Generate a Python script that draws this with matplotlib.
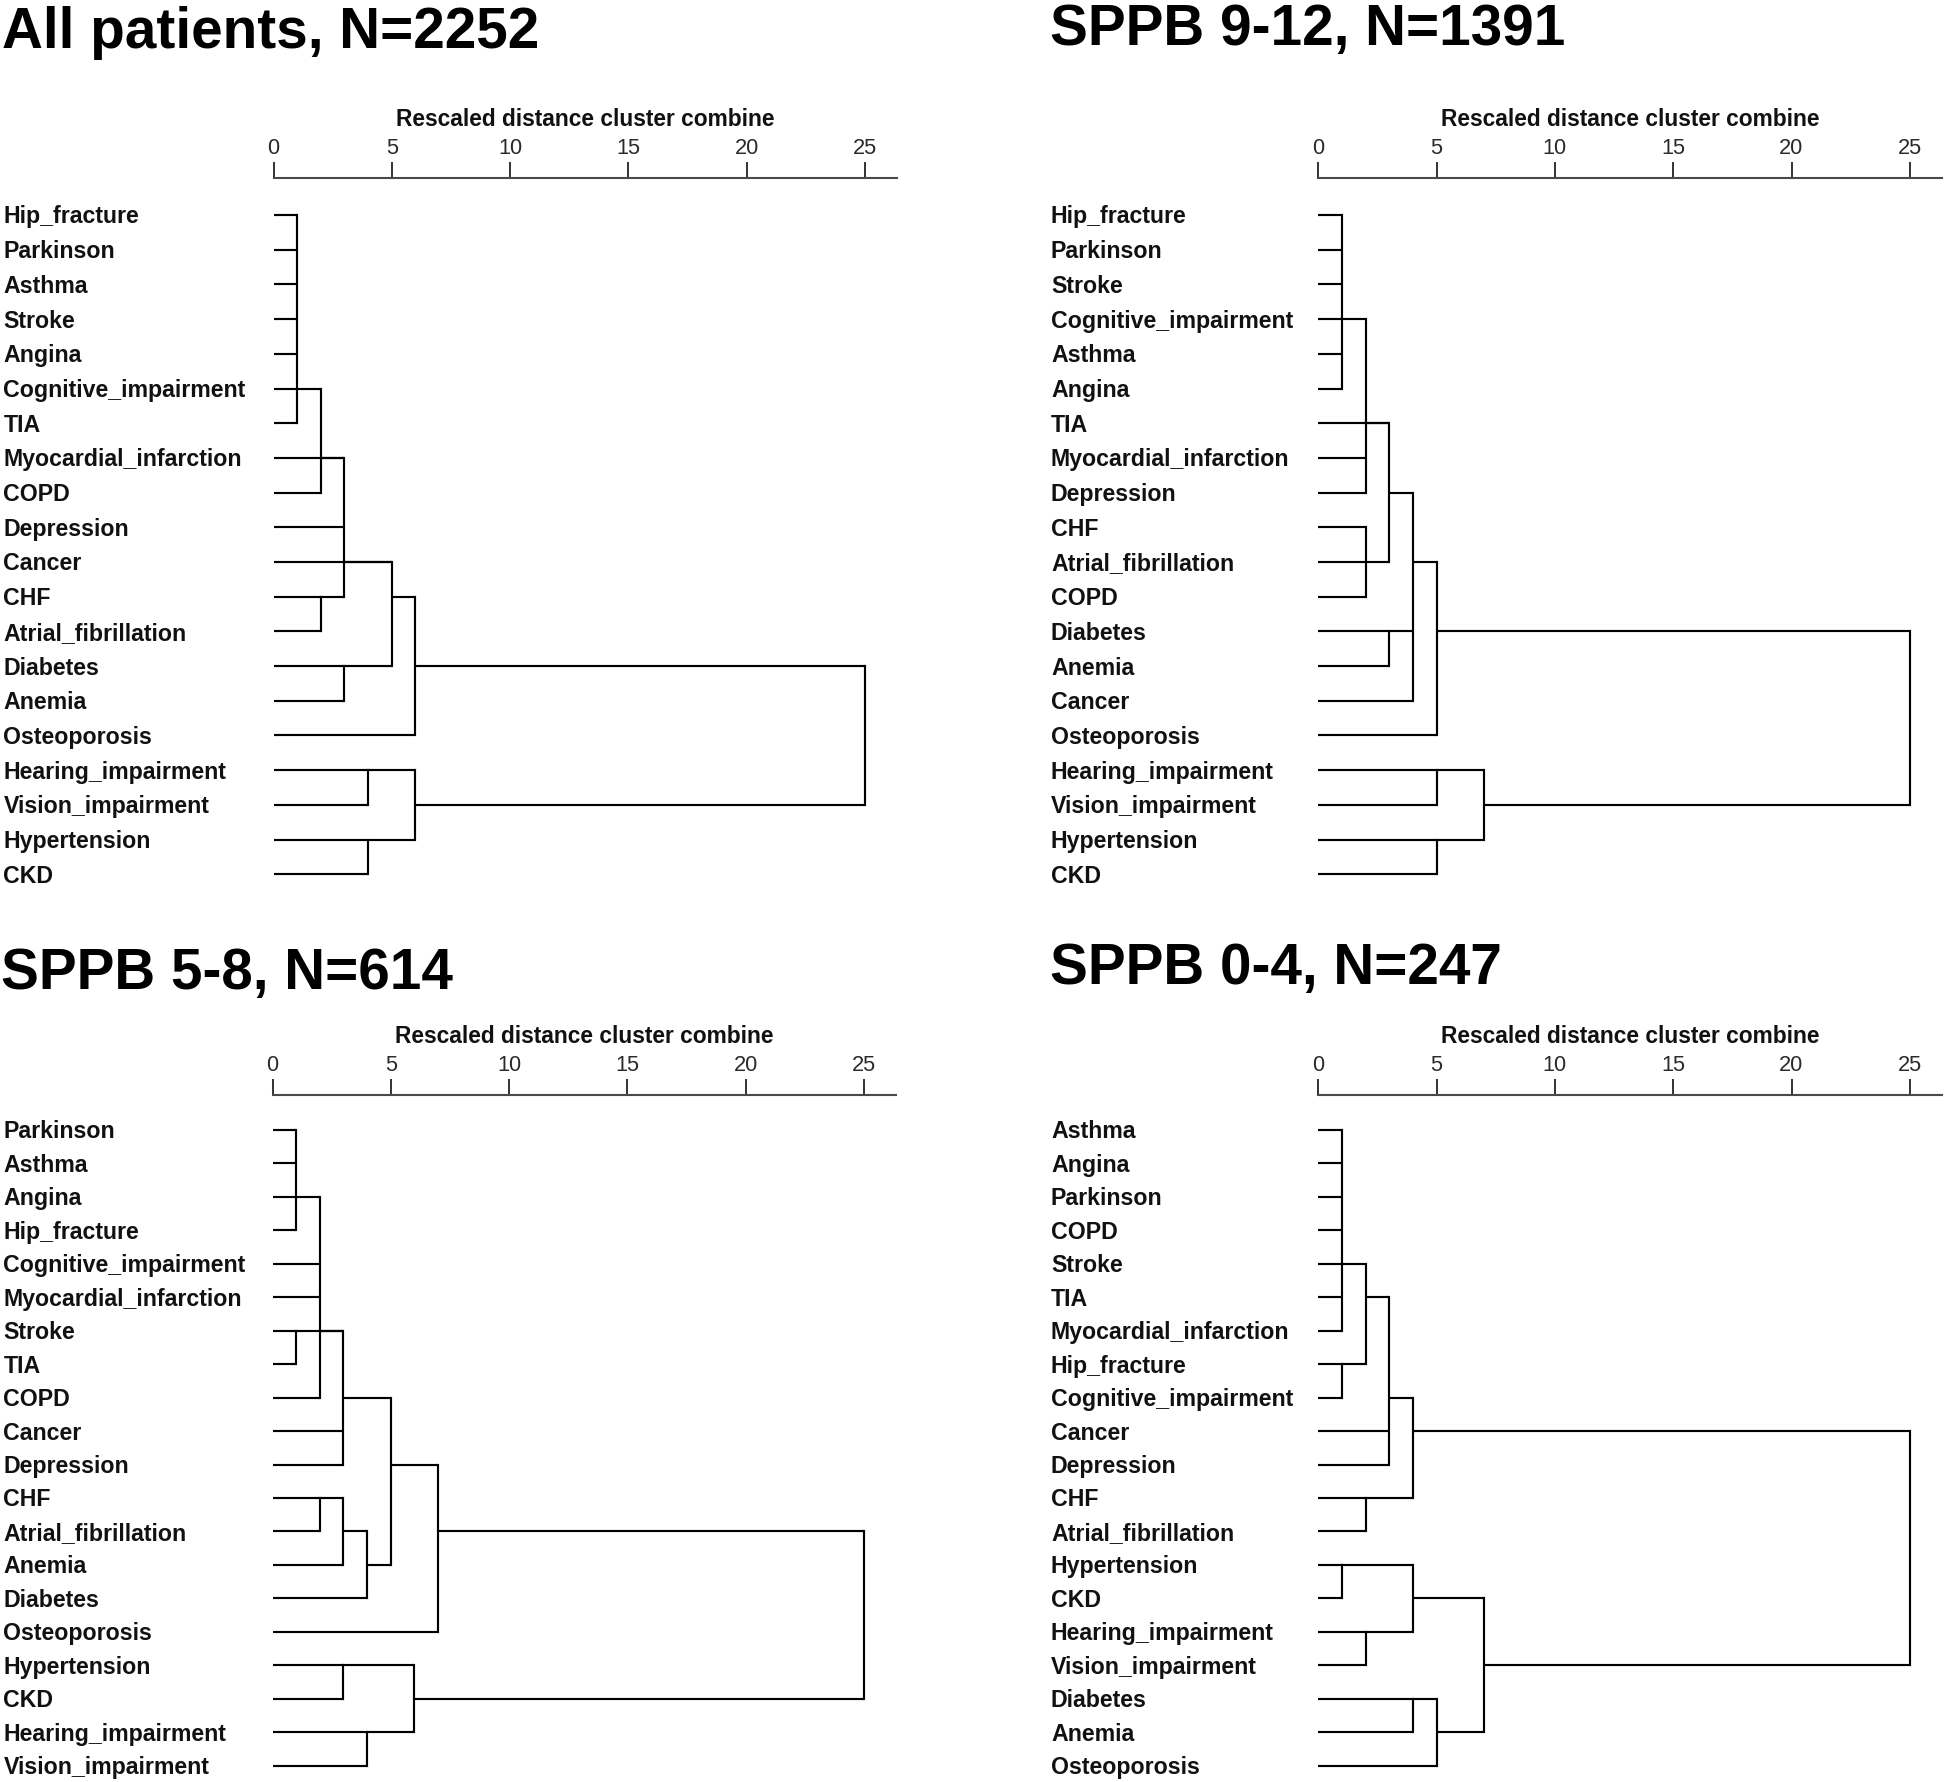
import matplotlib
matplotlib.use("Agg")
import matplotlib.pyplot as plt
import matplotlib.transforms as mtransforms

# ---------------- data ----------------
titles = ["All patients, N=2252", "SPPB 9-12, N=1391", "SPPB 5-8, N=614", "SPPB 0-4, N=247"]
axis_label = "Rescaled distance cluster combine"
tick_values = [0, 5, 10, 15, 20, 25]

leaves_all = ["Hip_fracture", "Parkinson", "Asthma", "Stroke", "Angina", "Cognitive_impairment",
              "TIA", "Myocardial_infarction", "COPD", "Depression", "Cancer", "CHF",
              "Atrial_fibrillation", "Diabetes", "Anemia", "Osteoporosis", "Hearing_impairment",
              "Vision_impairment", "Hypertension", "CKD"]
# merges: (rescaled distance, members [leaf name or earlier merge index], leaf row the joined line leaves from)
merges_all = [
    (1, ["Hip_fracture", "Parkinson", "Asthma", "Stroke", "Angina", "Cognitive_impairment", "TIA"], "Cognitive_impairment"),
    (2, [0, "COPD"], "Myocardial_infarction"),
    (2, ["CHF", "Atrial_fibrillation"], "CHF"),
    (3, [1, "Myocardial_infarction", "Depression", 2], "Cancer"),
    (3, ["Diabetes", "Anemia"], "Diabetes"),
    (5, [3, "Cancer", 4], "CHF"),
    (6, [5, "Osteoporosis"], "Diabetes"),
    (4, ["Hearing_impairment", "Vision_impairment"], "Hearing_impairment"),
    (4, ["Hypertension", "CKD"], "Hypertension"),
    (6, [7, 8], "Vision_impairment"),
    (25, [6, 9], None),
]

leaves_912 = ["Hip_fracture", "Parkinson", "Stroke", "Cognitive_impairment", "Asthma", "Angina",
              "TIA", "Myocardial_infarction", "Depression", "CHF", "Atrial_fibrillation", "COPD",
              "Diabetes", "Anemia", "Cancer", "Osteoporosis", "Hearing_impairment",
              "Vision_impairment", "Hypertension", "CKD"]
merges_912 = [
    (1, ["Hip_fracture", "Parkinson", "Stroke", "Cognitive_impairment", "Asthma", "Angina"], "Cognitive_impairment"),
    (2, [0, "Myocardial_infarction", "Depression"], "TIA"),
    (2, ["CHF", "Atrial_fibrillation", "COPD"], "Atrial_fibrillation"),
    (3, [1, "TIA", 2], "Depression"),
    (3, ["Diabetes", "Anemia"], "Diabetes"),
    (4, [3, 4, "Cancer"], "Atrial_fibrillation"),
    (5, [5, "Osteoporosis"], "Diabetes"),
    (5, ["Hearing_impairment", "Vision_impairment"], "Hearing_impairment"),
    (5, ["Hypertension", "CKD"], "Hypertension"),
    (7, [7, 8], "Vision_impairment"),
    (25, [6, 9], None),
]

leaves_58 = ["Parkinson", "Asthma", "Angina", "Hip_fracture", "Cognitive_impairment",
             "Myocardial_infarction", "Stroke", "TIA", "COPD", "Cancer", "Depression", "CHF",
             "Atrial_fibrillation", "Anemia", "Diabetes", "Osteoporosis", "Hypertension", "CKD",
             "Hearing_impairment", "Vision_impairment"]
merges_58 = [
    (1, ["Parkinson", "Asthma", "Angina", "Hip_fracture"], "Angina"),
    (1, ["Stroke", "TIA"], "Stroke"),
    (2, [0, "Cognitive_impairment", "Myocardial_infarction", "COPD"], "Stroke"),
    (3, [2, 1, "Cancer", "Depression"], "COPD"),
    (2, ["CHF", "Atrial_fibrillation"], "CHF"),
    (3, [4, "Anemia"], "Atrial_fibrillation"),
    (4, [5, "Diabetes"], "Anemia"),
    (5, [3, 6], "Depression"),
    (7, [7, "Osteoporosis"], "Atrial_fibrillation"),
    (3, ["Hypertension", "CKD"], "Hypertension"),
    (4, ["Hearing_impairment", "Vision_impairment"], "Hearing_impairment"),
    (6, [9, 10], "CKD"),
    (25, [8, 11], None),
]

leaves_04 = ["Asthma", "Angina", "Parkinson", "COPD", "Stroke", "TIA", "Myocardial_infarction",
             "Hip_fracture", "Cognitive_impairment", "Cancer", "Depression", "CHF",
             "Atrial_fibrillation", "Hypertension", "CKD", "Hearing_impairment",
             "Vision_impairment", "Diabetes", "Anemia", "Osteoporosis"]
merges_04 = [
    (1, ["Asthma", "Angina", "Parkinson", "COPD", "Stroke", "TIA", "Myocardial_infarction"], "Stroke"),
    (1, ["Hip_fracture", "Cognitive_impairment"], "Hip_fracture"),
    (2, [0, 1], "TIA"),
    (3, [2, "Cancer", "Depression"], "Cognitive_impairment"),
    (2, ["CHF", "Atrial_fibrillation"], "CHF"),
    (4, [3, 4], "Cancer"),
    (1, ["Hypertension", "CKD"], "Hypertension"),
    (2, ["Hearing_impairment", "Vision_impairment"], "Hearing_impairment"),
    (4, [6, 7], "CKD"),
    (4, ["Diabetes", "Anemia"], "Diabetes"),
    (5, [9, "Osteoporosis"], "Anemia"),
    (7, [8, 10], "Vision_impairment"),
    (25, [5, 11], None),
]

panels = [(leaves_all, merges_all), (leaves_912, merges_912),
          (leaves_58, merges_58), (leaves_04, merges_04)]

# ---------------- layout (pixels) ----------------
W, H = 1946, 1782
FONT = ["Liberation Sans", "DejaVu Sans"]
# zero_x, axis_y, first_row_y, row_step, label_x, title_x, title_baseline
geom = [
    (273.5, 178, 215, 34.7, 3.5, 1.5, 48),
    (1318.3, 178, 215, 34.7, 1051.0, 1049.5, 45),
    (272.5, 1095, 1130, 33.45, 3.5, 1.0, 989),
    (1318.3, 1095, 1130, 33.45, 1051.0, 1049.5, 984),
]
UNIT = 23.66        # px per distance unit
AXIS_LEN = 623.5    # px

fig = plt.figure(figsize=(W / 100, H / 100), dpi=100)
fig.patch.set_facecolor("white")

LW = 1.55
for (leaves, merges), (x0, ay, r0, step, lx, tx, tb), title in zip(panels, geom, titles):
    xmax = AXIS_LEN / UNIT
    bottom_px = min(r0 + 19.5 * step, H - 1)
    top_row = -(r0 - ay) / step
    bot_row = (bottom_px - r0) / step
    ax = fig.add_axes([x0 / W, 1 - bottom_px / H, AXIS_LEN / W, (bottom_px - ay) / H])
    ax.set_xlim(0, xmax)
    ax.set_ylim(bot_row, top_row)
    ax.patch.set_alpha(0)
    for s in ["left", "right", "bottom"]:
        ax.spines[s].set_visible(False)
    ax.spines["top"].set_color("#4a4a4a")
    ax.spines["top"].set_linewidth(1.5)
    ax.xaxis.tick_top()
    ax.set_xticks(tick_values)
    ax.set_xticklabels([str(v) for v in tick_values])
    ax.tick_params(axis="x", direction="out", length=11.5, width=1.4, color="#333333",
                   pad=2, labelsize=15.7, labelcolor="#2a2a2a")
    for lab in ax.get_xticklabels():
        lab.set_family(FONT)
    ax.set_yticks([])

    # dendrogram
    row = {name: i for i, name in enumerate(leaves)}
    node_row, node_h = [], []
    for h, members, exit_leaf in merges:
        rows = []
        for m in members:
            if isinstance(m, str):
                r, h0 = row[m], 0
            else:
                r, h0 = node_row[m], node_h[m]
            ax.plot([h0, h], [r, r], color="black", lw=LW, solid_capstyle="butt", clip_on=False)
            rows.append(r)
        ax.plot([h, h], [min(rows), max(rows)], color="black", lw=LW,
                solid_capstyle="projecting", clip_on=False)
        node_row.append(row[exit_leaf] if exit_leaf is not None else None)
        node_h.append(h)

    # leaf labels
    trans = mtransforms.blended_transform_factory(fig.transFigure, ax.transData)
    trans = mtransforms.offset_copy(trans, fig=fig, x=0, y=-8.5, units="dots")
    for i, name in enumerate(leaves):
        ax.text(lx / W, i, name, transform=trans, ha="left", va="baseline",
                fontsize=16.65, fontweight="bold", family=FONT, color="#111111", clip_on=False)

    # header and title
    fig.text((x0 + AXIS_LEN / 2) / W, 1 - (ay - 52) / H, axis_label, ha="center", va="baseline",
             fontsize=16.4, fontweight="bold", family=FONT, color="#111111")
    fig.text(tx / W, 1 - tb / H, title, ha="left", va="baseline",
             fontsize=40.8, fontweight="bold", family=FONT, color="black")

fig.savefig("out.png", dpi=100, facecolor="white")
